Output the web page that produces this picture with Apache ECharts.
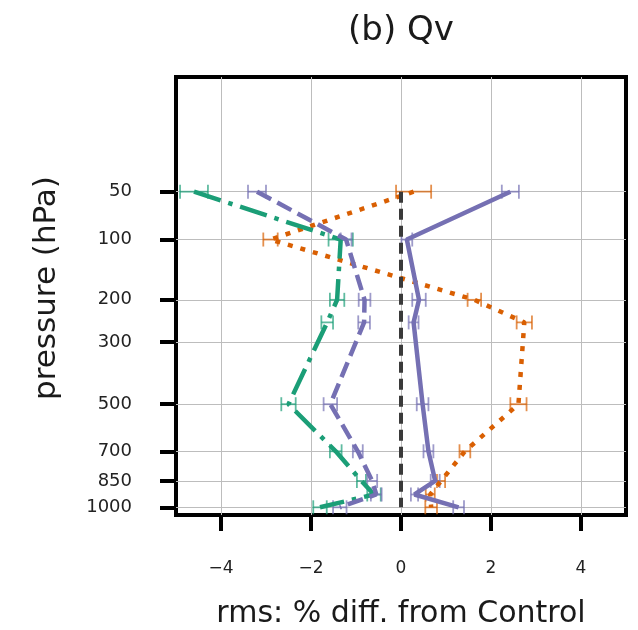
<!DOCTYPE html>
<html><head><meta charset="utf-8">
<script src="https://cdn.jsdelivr.net/npm/echarts@6/dist/echarts.min.js"></script>
<style>html,body{margin:0;padding:0;background:#fff}#c{width:638px;height:630px}</style>
</head><body><div id="c"></div>
<script>
// pressure levels (hPa) at which values are plotted
const levels = [50, 100, 200, 250, 500, 700, 850, 925, 1000];
// tick labels
const pressureTicks = [50, 100, 200, 300, 500, 700, 850, 1000];
const xTicks = [-4, -2, 0, 2, 4];
// series values (rms % diff. from Control) and error half-widths
const purpleSolid    = [2.43, 0.13, 0.40, 0.28, 0.48, 0.61, 0.76, 0.30, 1.28];
const purpleSolidErr = [0.19, 0.12, 0.15, 0.11, 0.13, 0.11, 0.10, 0.08, 0.12];
const purpleDashed    = [-3.20, -1.22, -0.81, -0.82, -1.57, -0.96, -0.64, -0.55, -1.36];
const purpleDashedErr = [0.20, 0.12, 0.13, 0.13, 0.15, 0.11, 0.11, 0.12, 0.15];
const greenDashDot    = [-4.60, -1.34, -1.42, -1.64, -2.50, -1.45, -0.88, -0.60, -1.80];
const greenDashDotErr = [0.31, 0.27, 0.16, 0.13, 0.16, 0.13, 0.10, 0.15, 0.15];
const orangeDotted    = [0.28, -2.90, 1.63, 2.74, 2.61, 1.42, 0.89, 0.65, 0.67];
const orangeDottedErr = [0.39, 0.16, 0.15, 0.17, 0.18, 0.12, 0.09, 0.10, 0.13];
// zero reference line
const zeroLineX = [0, 0];
const zeroLineLevels = [50, 1000];

const FONT = 'DejaVu Sans';
const PURPLE = '#7570b3', GREEN = '#1b9e77', ORANGE = '#d95f02';
const tr = p => Math.cbrt(p);          // pressure-axis transform
const minus = v => (v < 0 ? '\u2212' + (-v) : String(v));

function lineData(vals) { return vals.map((v, i) => [v, tr(levels[i])]); }
function errData(vals, errs) { return vals.map((v, i) => [v - errs[i], v + errs[i], tr(levels[i])]); }

function errSeries(vals, errs, color) {
  return {
    type: 'custom', clip: true, z: 3,
    data: errData(vals, errs),
    encode: { x: [0, 1], y: 2 },
    renderItem: (params, api) => {
      const lo = api.coord([api.value(0), api.value(2)]);
      const hi = api.coord([api.value(1), api.value(2)]);
      const h = 7;
      const st = { stroke: color, lineWidth: 1.8, opacity: 0.7 };
      return { type: 'group', children: [
        { type: 'line', shape: { x1: lo[0], y1: lo[1], x2: hi[0], y2: hi[1] }, style: st },
        { type: 'line', shape: { x1: lo[0], y1: lo[1] - h, x2: lo[0], y2: lo[1] + h }, style: st },
        { type: 'line', shape: { x1: hi[0], y1: hi[1] - h, x2: hi[0], y2: hi[1] + h }, style: st }
      ]};
    }
  };
}
function lineSeries(vals, color, type, cap) {
  return {
    type: 'line', data: lineData(vals), symbol: 'none', z: 4,
    lineStyle: { color, width: 4.5, type, cap: cap || 'butt' },
    silent: true
  };
}

const chart = echarts.init(document.getElementById('c'), null, { renderer: 'canvas' });
chart.setOption({
  animation: false,
  backgroundColor: '#fff',
  graphic: [{
    type: 'text', x: 401, y: 31,
    style: { text: '(b) Qv', font: '34px "DejaVu Sans"', fill: '#1a1a1a', textAlign: 'center', textVerticalAlign: 'middle' }
  }],
  grid: { left: 176, right: 12, top: 77, bottom: 115, outerBoundsMode: 'none', containLabel: false,
          show: true, borderColor: '#000', borderWidth: 4, backgroundColor: 'transparent' },
  xAxis: {
    type: 'value', min: -5, max: 5,
    axisLine: { show: false, onZero: false },
    axisTick: { show: true, customValues: xTicks, length: 16, lineStyle: { color: '#000', width: 4 } },
    axisLabel: { customValues: xTicks, formatter: v => minus(v), margin: 45, fontFamily: FONT, fontSize: 17, color: '#222' },
    splitLine: { show: true, lineStyle: { color: '#bdbdbd', width: 1 } },
    name: 'rms: % diff. from Control', nameLocation: 'middle', nameGap: 84,
    nameTextStyle: { fontFamily: FONT, fontSize: 30, color: '#1a1a1a' }
  },
  yAxis: {
    type: 'value', inverse: true, min: 1.389, max: 10.154,
    axisLine: { show: false, onZero: false },
    axisTick: { show: true, customValues: pressureTicks.map(tr), length: 16, lineStyle: { color: '#000', width: 4 } },
    axisLabel: { customValues: pressureTicks.map(tr), formatter: v => String(Math.round(v * v * v)), margin: 44, fontFamily: FONT, fontSize: 18, color: '#222' },
    splitLine: { show: true, lineStyle: { color: '#bdbdbd', width: 1 } },
    name: 'pressure (hPa)', nameLocation: 'middle', nameGap: 114, nameRotate: 90,
    nameTextStyle: { fontFamily: FONT, fontSize: 31, color: '#1a1a1a', padding: [0, 0, 0, 16] }
  },
  series: [
    lineSeries(orangeDotted, ORANGE, [5, 8]),
    errSeries(orangeDotted, orangeDottedErr, ORANGE),
    lineSeries(greenDashDot, GREEN, [28, 8, 4.5, 8]),
    errSeries(greenDashDot, greenDashDotErr, GREEN),
    lineSeries(purpleDashed, PURPLE, [16, 7]),
    errSeries(purpleDashed, purpleDashedErr, PURPLE),
    lineSeries(purpleSolid, PURPLE, 'solid'),
    errSeries(purpleSolid, purpleSolidErr, PURPLE),
    {
      type: 'line', symbol: 'none', z: 5, silent: true,
      data: zeroLineX.map((x, i) => [x, tr(zeroLineLevels[i])]),
      lineStyle: { color: '#3a3a3a', width: 4, type: [11, 6] }
    }
  ]
});
</script></body></html>
